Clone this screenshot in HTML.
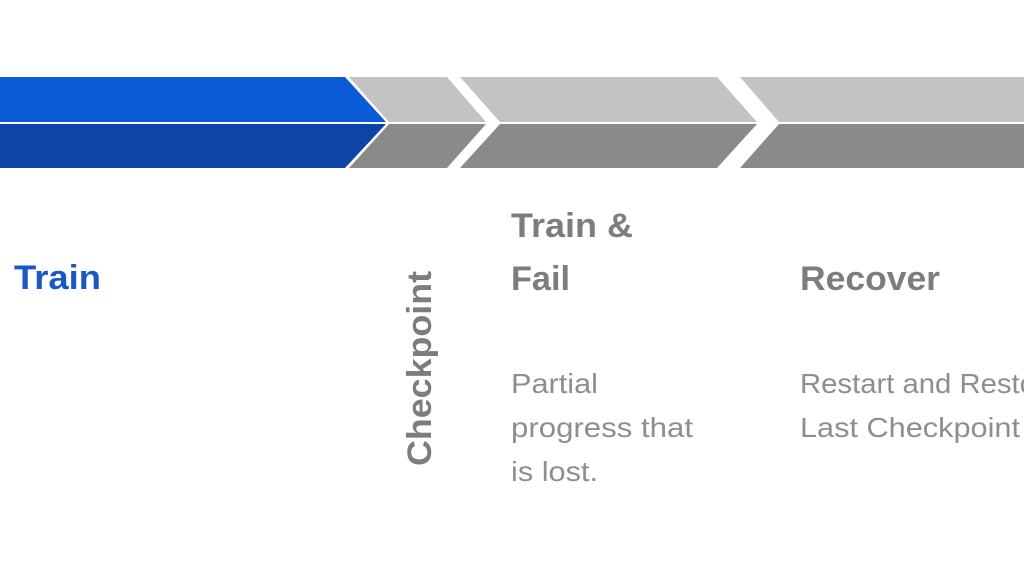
<!DOCTYPE html>
<html><head><style>
html,body{margin:0;padding:0;background:#fff;}
svg{display:block;}
</style></head><body>
<svg width="1024" height="585" viewBox="0 0 1024 585" xmlns="http://www.w3.org/2000/svg">
<rect width="1024" height="585" fill="#fff"/>
<polygon points="0,77 345,77 386,122 0,122" fill="#0b5bd8"/>
<polygon points="0,124 386,124 345,168 0,168" fill="#0d45a6"/>
<polygon points="349,77 447,77 486,122 389,122" fill="#c3c3c3"/>
<polygon points="389,124 486,124 447,168 349,168" fill="#8a8a8a"/>
<polygon points="460,77 717,77 757,122 500,122" fill="#c3c3c3"/>
<polygon points="500,124 757,124 717,168 460,168" fill="#8a8a8a"/>
<polygon points="740,77 1024,77 1024,122 779,122" fill="#c3c3c3"/>
<polygon points="779,124 1024,124 1024,168 740,168" fill="#8a8a8a"/>
<g font-family="Liberation Sans, Arial, sans-serif">
<text x="14" y="289" font-size="34" font-weight="bold" fill="#1a56c4" textLength="87" lengthAdjust="spacingAndGlyphs">Train</text>
<text transform="translate(431,466) rotate(-90)" font-size="34" font-weight="bold" fill="#7d7d7d" textLength="195" lengthAdjust="spacingAndGlyphs">Checkpoint</text>
<text x="511" y="237" font-size="34" font-weight="bold" fill="#7d7d7d" textLength="122" lengthAdjust="spacingAndGlyphs">Train &amp;</text>
<text x="511" y="290" font-size="34" font-weight="bold" fill="#7d7d7d" textLength="59" lengthAdjust="spacingAndGlyphs">Fail</text>
<text x="800" y="290" font-size="34" font-weight="bold" fill="#7d7d7d" textLength="140" lengthAdjust="spacingAndGlyphs">Recover</text>
<g font-size="28" fill="#8e8e8e">
<text x="511" y="393" textLength="87" lengthAdjust="spacingAndGlyphs">Partial</text>
<text x="511" y="437" textLength="182" lengthAdjust="spacingAndGlyphs">progress that</text>
<text x="511" y="481" textLength="87" lengthAdjust="spacingAndGlyphs">is lost.</text>
<text x="800" y="393" textLength="262" lengthAdjust="spacingAndGlyphs">Restart and Restore</text>
<text x="800" y="437" textLength="220" lengthAdjust="spacingAndGlyphs">Last Checkpoint</text>
</g>
</g>
</svg>
</body></html>
